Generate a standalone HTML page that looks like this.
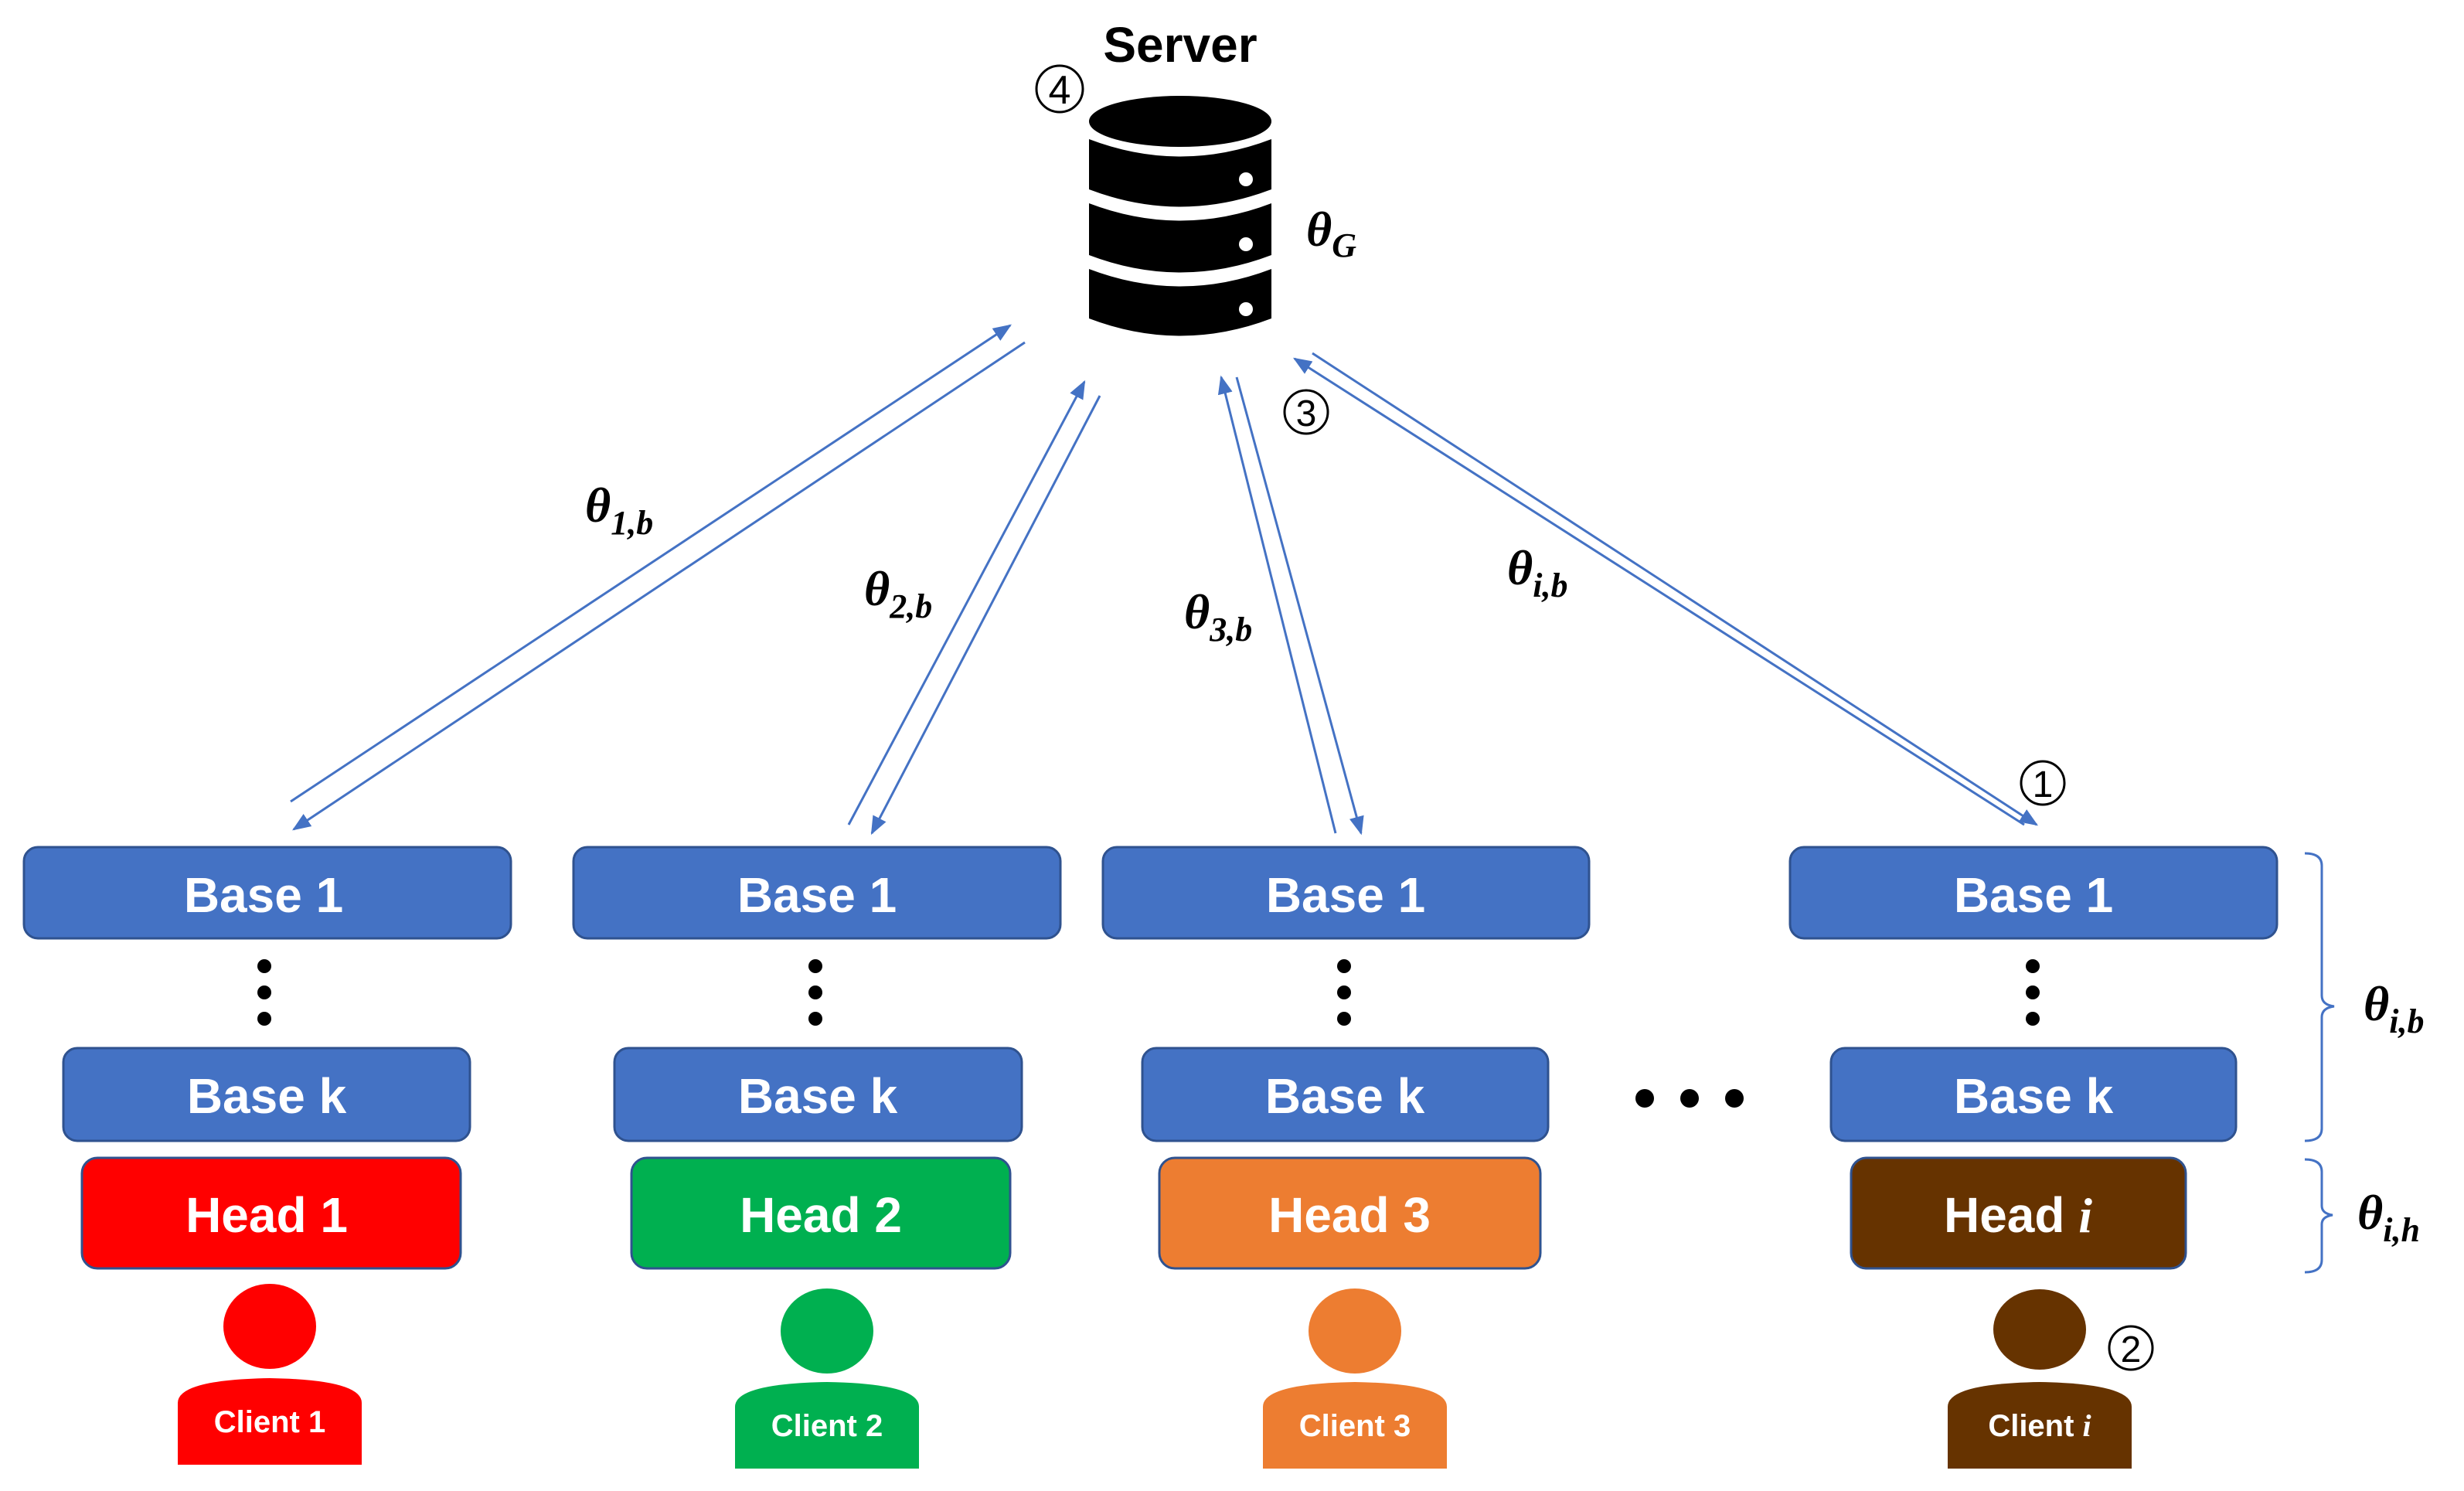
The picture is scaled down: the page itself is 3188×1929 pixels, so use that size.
<!DOCTYPE html>
<html><head><meta charset="utf-8"><style>
html,body{margin:0;padding:0;background:#fff;}
svg{display:block;}
.bt{font-family:"Liberation Sans",sans-serif;font-weight:bold;fill:#fff;text-anchor:middle;}
.th{font-family:"Liberation Serif",serif;font-style:italic;font-weight:bold;fill:#000;}
.cn{font-family:"Liberation Sans",sans-serif;fill:#000;text-anchor:middle;}
</style></head><body>
<svg width="3188" height="1929" viewBox="0 0 3188 1929" xmlns="http://www.w3.org/2000/svg">
<defs>
<marker id="ar" viewBox="0 0 10 10" refX="9" refY="5" markerWidth="8" markerHeight="8" orient="auto" markerUnits="userSpaceOnUse">
<path d="M0,0 L10,5 L0,10 z" fill="#4472C4"/></marker>
<marker id="ar2" viewBox="0 0 10 10" refX="9" refY="5" markerWidth="24" markerHeight="24" orient="auto" markerUnits="userSpaceOnUse">
<path d="M0,1 L10,5 L0,9 z" fill="#4472C4"/></marker>
</defs>
<!-- Server -->
<text x="1527" y="80" font-family="Liberation Sans,sans-serif" font-weight="bold" font-size="64" text-anchor="middle">Server</text>
<circle cx="1371" cy="115" r="30" fill="none" stroke="#000" stroke-width="3"/>
<text x="1371" y="134" class="cn" font-size="52">4</text>
<g fill="#000">
<ellipse cx="1527" cy="157" rx="118" ry="33"/>
<path d="M1409,180 Q1527,225 1645,180 L1645,245 Q1527,290 1409,245 Z"/>
<path d="M1409,263 Q1527,308 1645,263 L1645,330 Q1527,375 1409,330 Z"/>
<path d="M1409,348 Q1527,393 1645,348 L1645,412 Q1527,457 1409,412 Z"/>
</g>
<g fill="#fff"><circle cx="1612" cy="232" r="9"/><circle cx="1612" cy="316" r="9"/><circle cx="1612" cy="400" r="9"/></g>
<text x="1690" y="318" class="th" font-size="64">θ<tspan font-size="44" dy="14">G</tspan></text>

<!-- arrows -->
<g stroke="#4472C4" stroke-width="3" fill="none" marker-end="url(#ar2)">
<line x1="376" y1="1037" x2="1307" y2="421"/>
<line x1="1326" y1="443" x2="380" y2="1073"/>
<line x1="1098" y1="1067" x2="1403" y2="494"/>
<line x1="1423" y1="512" x2="1128" y2="1078"/>
<line x1="1728" y1="1078" x2="1580" y2="488"/>
<line x1="1600" y1="488" x2="1761" y2="1078"/>
<line x1="2619" y1="1067" x2="1675" y2="464"/>
<line x1="1698" y1="457" x2="2635" y2="1067"/>
</g>
<circle cx="1690" cy="533" r="28" fill="none" stroke="#000" stroke-width="3"/>
<text x="1690" y="551" class="cn" font-size="48">3</text>
<circle cx="2643" cy="1013" r="28" fill="none" stroke="#000" stroke-width="3"/>
<text x="2643" y="1031" class="cn" font-size="48">1</text>

<text x="757" y="675" class="th" font-size="64">θ<tspan font-size="44" dy="16">1,b</tspan></text>
<text x="1118" y="783" class="th" font-size="64">θ<tspan font-size="44" dy="16">2,b</tspan></text>
<text x="1532" y="813" class="th" font-size="64">θ<tspan font-size="44" dy="16">3,b</tspan></text>
<text x="1950" y="756" class="th" font-size="64">θ<tspan font-size="44" dy="16">i,b</tspan></text>

<!-- columns -->
<g stroke="#2F528F" stroke-width="3">
<rect x="31" y="1096" width="630" height="118" rx="18" fill="#4472C4"/>
<rect x="82" y="1356" width="526" height="120" rx="18" fill="#4472C4"/>
<rect x="106" y="1498" width="490" height="143" rx="20" fill="#FF0000"/>
<rect x="742" y="1096" width="630" height="118" rx="18" fill="#4472C4"/>
<rect x="795" y="1356" width="527" height="120" rx="18" fill="#4472C4"/>
<rect x="817" y="1498" width="490" height="143" rx="20" fill="#00B050"/>
<rect x="1427" y="1096" width="629" height="118" rx="18" fill="#4472C4"/>
<rect x="1478" y="1356" width="525" height="120" rx="18" fill="#4472C4"/>
<rect x="1500" y="1498" width="493" height="143" rx="20" fill="#ED7D31"/>
<rect x="2316" y="1096" width="630" height="118" rx="18" fill="#4472C4"/>
<rect x="2369" y="1356" width="524" height="120" rx="18" fill="#4472C4"/>
<rect x="2395" y="1498" width="433" height="143" rx="20" fill="#663300"/>
</g>
<g class="bt" font-size="64">
<text x="341" y="1180">Base  1</text><text x="345" y="1440">Base  k</text><text x="345" y="1594">Head  1</text>
<text x="1057" y="1180">Base  1</text><text x="1058" y="1440">Base  k</text><text x="1062" y="1594">Head  2</text>
<text x="1741" y="1180">Base  1</text><text x="1740" y="1440">Base  k</text><text x="1746" y="1594">Head  3</text>
<text x="2631" y="1180">Base  1</text><text x="2631" y="1440">Base  k</text><text x="2611" y="1594">Head  <tspan font-family="Liberation Serif,serif" font-style="italic">i</tspan></text>
</g>
<g fill="#000">
<circle cx="342" cy="1250" r="9"/><circle cx="342" cy="1284" r="9"/><circle cx="342" cy="1318" r="9"/>
<circle cx="1055" cy="1250" r="9"/><circle cx="1055" cy="1284" r="9"/><circle cx="1055" cy="1318" r="9"/>
<circle cx="1739" cy="1250" r="9"/><circle cx="1739" cy="1284" r="9"/><circle cx="1739" cy="1318" r="9"/>
<circle cx="2630" cy="1250" r="9"/><circle cx="2630" cy="1284" r="9"/><circle cx="2630" cy="1318" r="9"/>
<circle cx="2128" cy="1421" r="12"/><circle cx="2186" cy="1421" r="12"/><circle cx="2244" cy="1421" r="12"/>
</g>

<!-- clients -->
<g>
<ellipse cx="349" cy="1716" rx="60" ry="55" fill="#FF0000"/>
<path d="M230,1895 L230,1815 Q230,1785 349,1783 Q468,1785 468,1815 L468,1895 Z" fill="#FF0000"/>
<text x="349" y="1853" class="bt" font-size="40">Client 1</text>
<ellipse cx="1070" cy="1722" rx="60" ry="55" fill="#00B050"/>
<path d="M951,1900 L951,1820 Q951,1790 1070,1788 Q1189,1790 1189,1820 L1189,1900 Z" fill="#00B050"/>
<text x="1070" y="1858" class="bt" font-size="40">Client 2</text>
<ellipse cx="1753" cy="1722" rx="60" ry="55" fill="#ED7D31"/>
<path d="M1634,1900 L1634,1820 Q1634,1790 1753,1788 Q1872,1790 1872,1820 L1872,1900 Z" fill="#ED7D31"/>
<text x="1753" y="1858" class="bt" font-size="40">Client 3</text>
<ellipse cx="2639" cy="1720" rx="60" ry="52" fill="#663300"/>
<path d="M2520,1900 L2520,1820 Q2520,1790 2639,1788 Q2758,1790 2758,1820 L2758,1900 Z" fill="#663300"/>
<text x="2639" y="1858" class="bt" font-size="40">Client <tspan font-family="Liberation Serif,serif" font-style="italic">i</tspan></text>
</g>
<circle cx="2757" cy="1744" r="28" fill="none" stroke="#000" stroke-width="3"/>
<text x="2757" y="1762" class="cn" font-size="48">2</text>

<!-- braces -->
<g stroke="#4472C4" stroke-width="3" fill="none">
<path d="M2982,1104 Q3004,1104 3004,1120 L3004,1288 Q3004,1300 3020,1302 Q3004,1304 3004,1316 L3004,1460 Q3004,1476 2982,1476"/>
<path d="M2982,1500 Q3004,1500 3004,1516 L3004,1560 Q3004,1570 3018,1572 Q3004,1574 3004,1584 L3004,1630 Q3004,1646 2982,1646"/>
</g>
<text x="3058" y="1320" class="th" font-size="64">θ<tspan font-size="44" dy="16">i,b</tspan></text>
<text x="3050" y="1590" class="th" font-size="64">θ<tspan font-size="44" dy="16">i,h</tspan></text>
</svg>
</body></html>
